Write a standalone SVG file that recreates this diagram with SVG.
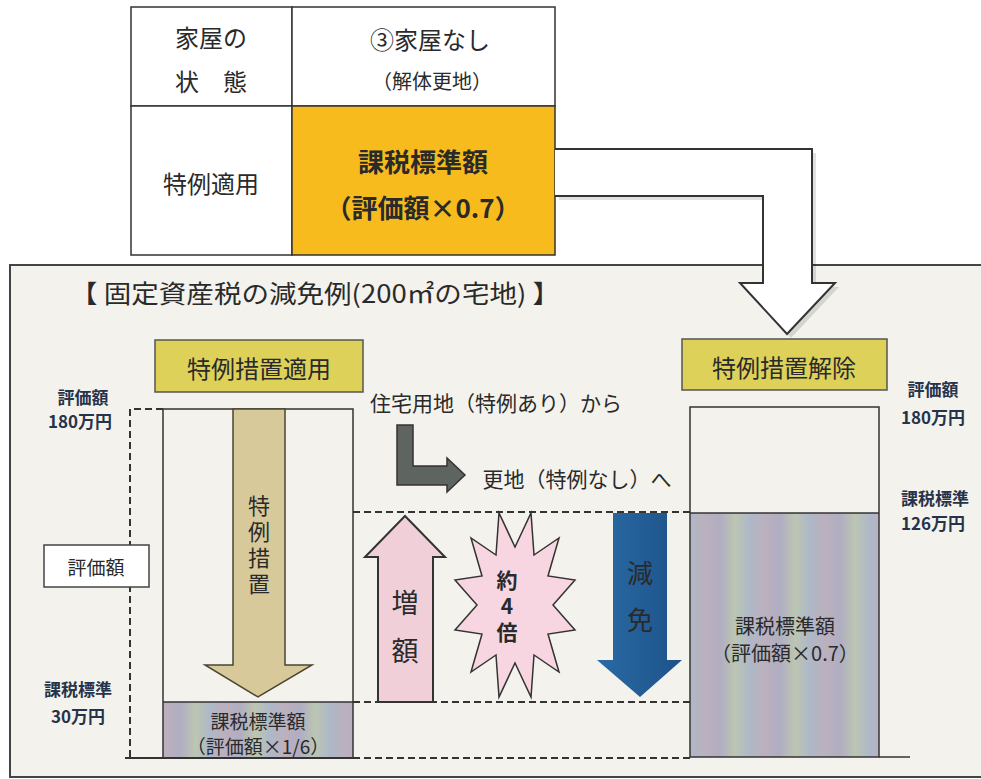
<svg xmlns="http://www.w3.org/2000/svg" width="981" height="779" viewBox="0 0 981 779">
<style>
text{font-family:"Noto Sans CJK JP","Noto Sans",sans-serif;dominant-baseline:central;text-anchor:middle;fill:#2a2a2a}
.tbl{fill:#fff;stroke:#333;stroke-width:1.5}
.navy{fill:#27334a;font-weight:bold;font-size:17px}
.lbl{fill:#ddd15a;stroke:#555;stroke-width:1.5}
.bar{fill:none;stroke:#333;stroke-width:1.5}
.dash{stroke:#333;stroke-width:2;stroke-dasharray:7 4;fill:none}
.vert{writing-mode:vertical-rl;text-orientation:upright}
</style>
<defs>
<linearGradient id="holo" x1="0" y1="0" x2="60" y2="0" gradientUnits="userSpaceOnUse" spreadMethod="repeat">
<stop offset="0" stop-color="#b0adc2"/>
<stop offset="0.25" stop-color="#bcc6b2"/>
<stop offset="0.5" stop-color="#aeb8c8"/>
<stop offset="0.75" stop-color="#bcb0bd"/>
<stop offset="1" stop-color="#b0adc2"/>
</linearGradient>
<linearGradient id="blue" x1="0" y1="0" x2="1" y2="0">
<stop offset="0" stop-color="#2a6aa5"/>
<stop offset="1" stop-color="#1d5288"/>
</linearGradient>
</defs>
<rect width="981" height="779" fill="#fff"/>
<g id="panel">
<rect x="10" y="265" width="975" height="512" fill="#f4f2ec" stroke="#444" stroke-width="2"/>
<text x="315" y="292" font-size="25" fill="#222" textLength="490" lengthAdjust="spacingAndGlyphs">【 固定資産税の減免例(200㎡の宅地) 】</text>
</g>
<g id="table">
<rect class="tbl" x="131" y="7" width="161" height="99"/>
<rect class="tbl" x="292" y="7" width="263" height="99"/>
<rect class="tbl" x="131" y="106" width="161" height="149"/>
<rect x="292" y="106" width="263" height="149" fill="#f7bb1e" stroke="#333" stroke-width="1.5"/>
<text x="211" y="36" font-size="24">家屋の</text>
<text x="211" y="80" font-size="24">状　態</text>
<text x="430" y="38" font-size="24">③家屋なし</text>
<text x="432" y="80" font-size="20">（解体更地）</text>
<text x="211" y="182" font-size="24">特例適用</text>
<text x="423" y="160" font-size="26" font-weight="bold" fill="#2a2218">課税標準額</text>
<text x="423" y="206" font-size="26" font-weight="bold" fill="#2a2218">（評価額×0.7）</text>
</g>
<g id="connectors">
<polygon points="559,153 816,153 816,287 839,287 791,338 744,287 767,287 767,200 559,200" fill="#000" opacity="0.12"/>
<polygon points="555,149 812,149 812,283 835,283 787,334 740,283 763,283 763,196 555,196" fill="#fff"/>
<polyline points="555,149 812,149 812,283 835,283 787,334 740,283 763,283 763,196 555,196" fill="none" stroke="#333" stroke-width="2"/>
</g>
<g id="left-bar">
<rect x="163" y="702" width="190" height="56" fill="url(#holo)"/>
<rect class="bar" x="163" y="409" width="190" height="349"/>
<line x1="163" y1="702" x2="353" y2="702" stroke="#333" stroke-width="1.5"/>
<polygon points="233,409 285,409 285,665 312,665 258,697 205,665 233,665" fill="#d8c99b" stroke="#4a4630" stroke-width="1.5"/>
<text class="vert" x="259" y="547" font-size="22" letter-spacing="4">特例措置</text>
<text x="258" y="720" font-size="19">課税標準額</text>
<text x="258" y="745" font-size="19">（評価額×1/6）</text>
</g>
<g id="label-left">
<rect class="lbl" x="155" y="340" width="208" height="52"/>
<text x="259" y="367" font-size="24">特例措置適用</text>
</g>
<g id="label-right">
<rect class="lbl" x="682" y="339" width="205" height="51"/>
<text x="784" y="366" font-size="24">特例措置解除</text>
</g>
<g id="axis-left">
<polyline class="dash" points="163,409 130,409 130,758"/>
<line x1="125" y1="758" x2="353" y2="758" stroke="#333" stroke-width="2"/>
<text class="navy" x="83" y="396">評価額</text>
<text class="navy" x="80" y="420">180万円</text>
<text class="navy" x="78" y="688">課税標準</text>
<text class="navy" x="78" y="715">30万円</text>
<rect x="44" y="545" width="105" height="42" fill="#fff" stroke="#444" stroke-width="1.5"/>
<text x="96" y="566" font-size="19">評価額</text>
</g>
<g id="guides">
<line class="dash" x1="353" y1="512" x2="690" y2="512"/>
<line class="dash" x1="353" y1="702" x2="690" y2="702"/>
<line class="dash" x1="353" y1="758" x2="690" y2="758"/>
</g>
<g id="transition">
<text x="496" y="402" font-size="21">住宅用地（特例あり）から</text>
<polygon points="397,425 413,425 413,466 447,466 447,458 465,475 447,492 447,485 397,485" fill="#5e6560" stroke="#333" stroke-width="1.5"/>
<text x="577" y="478" font-size="21">更地（特例なし）へ</text>
</g>
<g id="increase">
<polygon points="378,702 433,702 433,557 445,557 405,516 365,557 378,557" fill="#f0cfd9" stroke="#333" stroke-width="2"/>
<text class="vert" x="405" y="637" font-size="27" letter-spacing="21">増額</text>
</g>
<g id="burst">
<polygon points="531,513 534,555 559,538 548,576 575,580 553,605 575,630 548,634 559,672 534,655 531,697 515,663 499,697 496,655 471,672 482,634 455,630 477,605 455,580 482,576 471,538 496,555 499,513 515,547" fill="#f7d6e1" stroke="#333" stroke-width="1.5"/>
<text class="vert" x="507" y="609" font-size="21" font-weight="bold" fill="#a31a2c" letter-spacing="5">約4倍</text>
</g>
<g id="decrease">
<polygon points="613,513 667,513 667,660 682,660 640,697 597,660 613,660" fill="url(#blue)"/>
<text class="vert" x="640" y="607" font-size="26" fill="#dde7f0" letter-spacing="21">減免</text>
</g>
<g id="right-bar">
<rect x="690" y="513" width="189" height="244" fill="url(#holo)"/>
<rect class="bar" x="690" y="407" width="189" height="350"/>
<line x1="690" y1="513" x2="879" y2="513" stroke="#333" stroke-width="1.5"/>
<line x1="879" y1="757" x2="910" y2="757" stroke="#333" stroke-width="1.5"/>
<text x="785" y="625" font-size="20">課税標準額</text>
<text x="785" y="652" font-size="20">（評価額×0.7）</text>
<text class="navy" x="933" y="388">評価額</text>
<text class="navy" x="933" y="416">180万円</text>
<text class="navy" x="935" y="497">課税標準</text>
<text class="navy" x="933" y="522">126万円</text>
</g>
</svg>
